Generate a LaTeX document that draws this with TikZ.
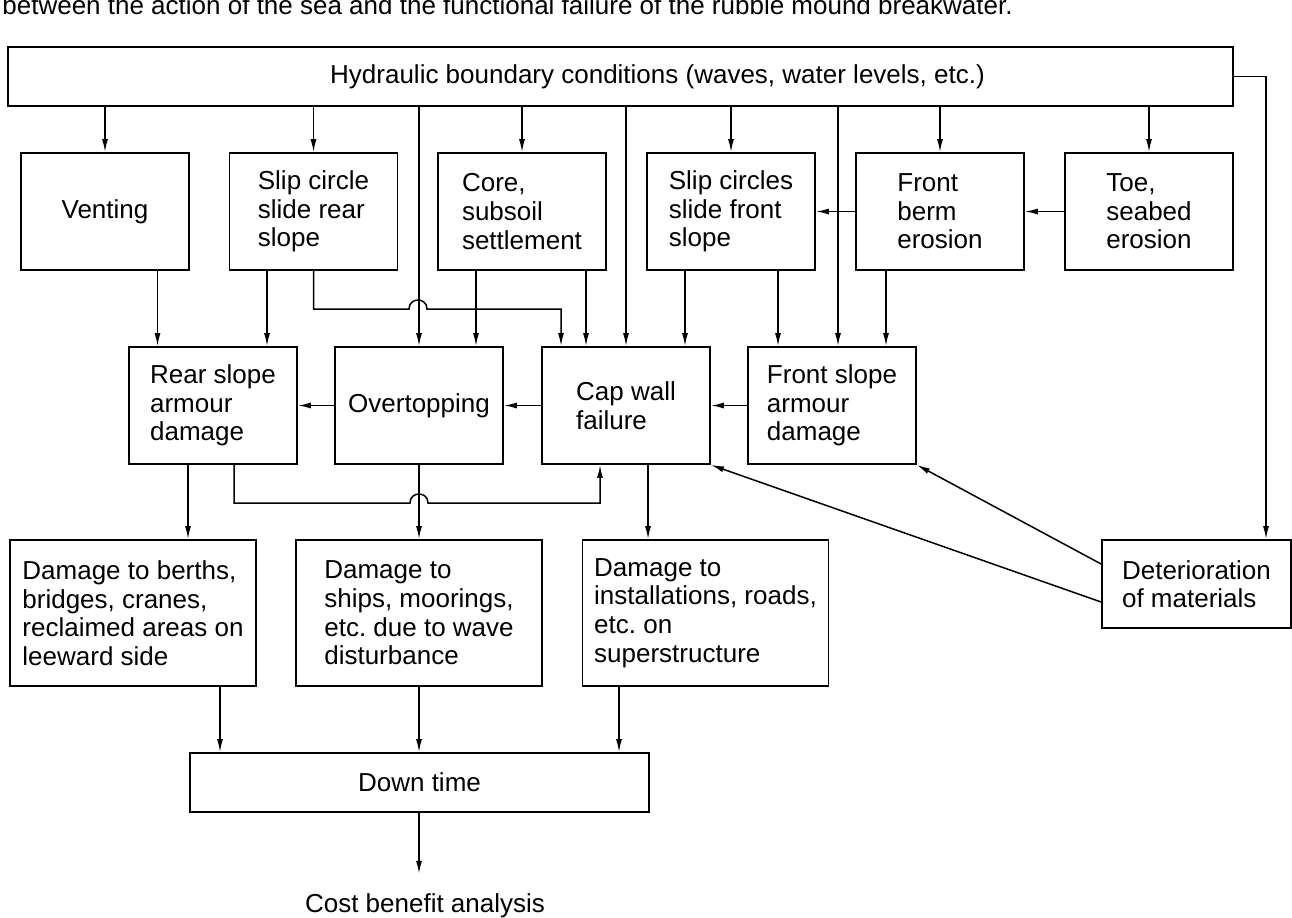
\documentclass[tikz,border=0pt]{standalone}
\usepackage{fontspec}
\setmainfont{Liberation Sans}
\usetikzlibrary{arrows.meta}
\frenchspacing

\begin{document}
\begin{tikzpicture}[x=0.5pt, y=-0.5pt,
	box/.style={draw, line width=0.9pt, align=left, font=\fontsize{13}{14.3}\selectfont,
		minimum width=84pt, minimum height=58.5pt},
	dmg/.style={box, minimum width=123pt, minimum height=73pt},
	arr/.style={line width=0.75pt, -{Latex[length=6.5pt,width=3pt]}}]
		\useasboundingbox (0,0) rectangle (1292,917);

		%% Caption line, cut at the top of the page
		\node[anchor=base west, inner sep=0pt, font=\fontsize{13}{14.3}\selectfont] (title) at (2,14)
		{between the action of the sea and the functional failure of the rubble mound breakwater.};

		%% Boundary conditions (text sits right of centre)
		\node[box, minimum width=612.5pt, minimum height=29.5pt] (hyd) at (620.5,76.5)
		{\hspace*{37pt}Hydraulic boundary conditions (waves, water levels, etc.)};

		% First row of mechanisms
		\node[box] (vent) at (105,211.5) {Venting};
		\node[box] (sliprear) at (313.5,211.5) {Slip circle\\slide rear\\slope};
		\node[box] (core) at (522,211.5) {Core,\\subsoil\\settlement};
		\node[box] (slipfront) at (731,211.5) {Slip circles\\slide front\\slope};
		\node[box] (berm) at (940,211.5) {Front\\berm\\erosion};
		\node[box] (toe) at (1149,211.5) {Toe,\\seabed\\erosion};

		% Second row
		\node[box] (rear) at (213,405.5) {Rear slope\\armour\\damage};
		\node[box] (over) at (419,405.5) {Overtopping};
		\node[box] (capwall) at (626,405.5) {Cap wall\\failure};
		\node[box] (front) at (832,405.5) {Front slope\\armour\\damage};

		% Damage
		\node[dmg] (berths) at (133,613) {Damage to berths,\\bridges, cranes,\\reclaimed areas on\\leeward side};
		\node[dmg] (ships) at (419,613) {Damage to\\ships, moorings,\\etc. due to wave\\disturbance};
		\node[dmg] (inst) at (705.5,613) {Damage to\\installations, roads,\\etc. on\\superstructure};
		\node[box, minimum width=94.5pt, minimum height=44pt] (deter) at (1196.5,584) {Deterioration\\of materials};

		%% Down time and cost
		\node[box, minimum width=229.5pt, minimum height=29.5pt] (down) at (419.5,782.5) {Down time};
		\node[anchor=base, inner ysep=9.5pt, font=\fontsize{13}{14.3}\selectfont] (cba) at (425,912) {Cost benefit analysis};

		%% Arrows from the boundary conditions
		\foreach \n in {vent,sliprear,core,slipfront,berm,toe}
			\draw[arr] (hyd.south -| \n) -- (\n.north);
		\draw[arr] (hyd.south -| over) -- (over.north);
		\draw[arr] (hyd.south -| capwall) -- (capwall.north);
		\draw[arr] (hyd.south -| 838,0) -- (front.north -| 838,0);
		\draw[arr] (hyd.east) -| (deter.north -| 1266,0);

		% First row to second row
		\draw[arr] (vent.south -| 157.5,0) -- (rear.north -| 157.5,0);
		\draw[arr] (sliprear.south -| 267,0) -- (rear.north -| 267,0);
		\draw[arr] (sliprear.south) -- (313.5,309) -- (409,309)
			.. controls (409,297) and (427,297) .. (427,309) -- (561,309) -- (capwall.north -| 561,0);
		\draw[arr] (core.south -| 476,0) -- (over.north -| 476,0);
		\draw[arr] (core.south -| 586,0) -- (capwall.north -| 586,0);
		\draw[arr] (slipfront.south -| 685,0) -- (capwall.north -| 685,0);
		\draw[arr] (slipfront.south -| 778,0) -- (front.north -| 778,0);
		\draw[arr] (berm.south -| 886,0) -- (front.north -| 886,0);
		\draw[arr] (toe.west) -- (berm.east);
		\draw[arr] (berm.west) -- (slipfront.east);

		% Along the second row
		\draw[arr] (front.west) -- (capwall.east);
		\draw[arr] (capwall.west) -- (over.east);
		\draw[arr] (over.west) -- (rear.east);
		\draw[arr] (rear.south -| 234,0) -- (234,503) -- (410,503)
			.. controls (410,491) and (428,491) .. (428,503) -- (600,503) -- (capwall.south -| 600,0);

		% Deterioration
		\draw[arr] (deter.west |- 0,564) -- (front.south east);
		\draw[arr] (deter.west |- 0,602) -- (capwall.south east);

		% Second row to damage
		\draw[arr] (rear.south -| 188,0) -- (berths.north -| 188,0);
		\draw[arr] (over.south) -- (ships.north);
		\draw[arr] (capwall.south -| 648,0) -- (inst.north -| 648,0);

		%% Damage to down time
		\draw[arr] (berths.south -| 220,0) -- (down.north -| 220,0);
		\draw[arr] (ships.south) -- (down.north -| ships);
		\draw[arr] (inst.south -| 619,0) -- (down.north -| 619,0);
		\draw[arr] (down.south -| ships) -- (cba.north -| ships);
	\end{tikzpicture}
\end{document}
